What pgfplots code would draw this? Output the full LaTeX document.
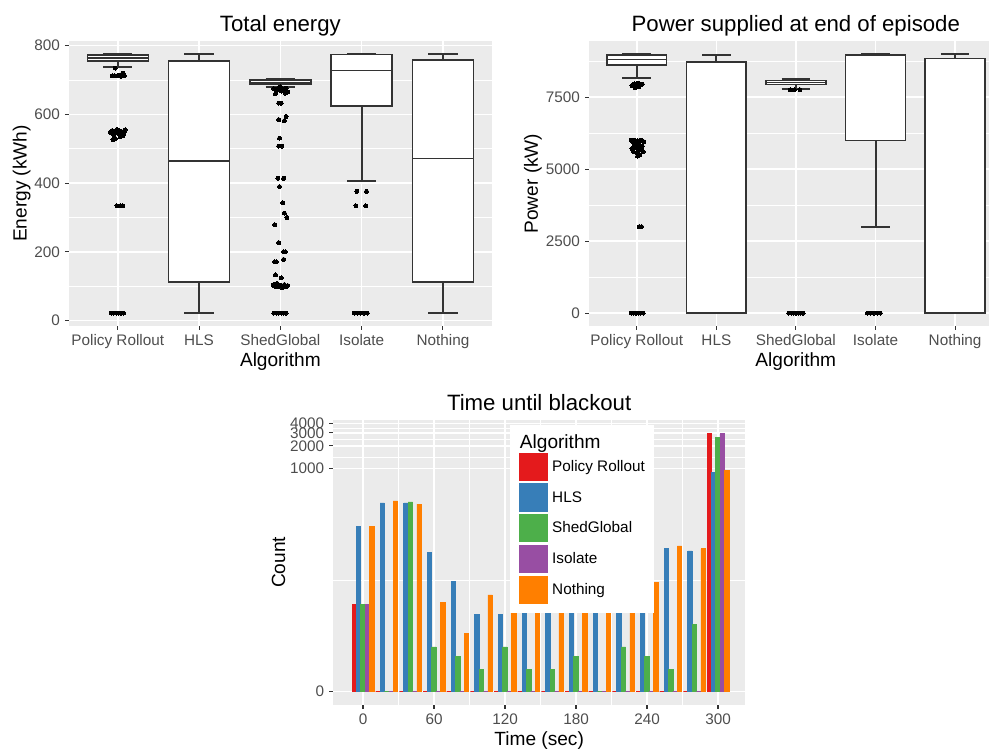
\documentclass[border=0pt]{standalone}
\usepackage{pgfplots}
\usepackage{pgfplotstable}
\pgfplotsset{compat=1.18}
\usepgfplotslibrary{statistics}
\usepackage{fontspec}
\setmainfont{Liberation Sans}

\definecolor{gray92}{HTML}{EBEBEB}
\definecolor{gray20}{HTML}{333333}
\definecolor{gray30}{HTML}{4D4D4D}
\definecolor{cR}{HTML}{E41A1C}
\definecolor{cB}{HTML}{377EB8}
\definecolor{cG}{HTML}{4DAF4A}
\definecolor{cP}{HTML}{984EA3}
\definecolor{cO}{HTML}{FF7F00}

\pgfplotstableread{
t red blue green purple orange
0 14 163 14 14 163
20 0 342 0 0 364
40 0 342 353 0 331
60 0 74 3 0 15
80 0 29 2 0 5
100 0 10 1 0 19
120 0 10 3 0 160
140 0 163 1 0 160
160 0 163 1 0 160
180 0 163 2 0 160
200 0 163 0 0 160
220 0 163 3 0 155
240 0 163 2 0 28
260 0 82 1 0 90
280 0 77 7 0 82
300 2986 893 2600 2986 950
}\timedata

\pgfplotsset{
  gg/.style={
    scale only axis, height=285pt,
    axis background/.style={fill=gray92},
    axis lines*=left, axis line style={draw=none},
    tick align=outside, major tick length=4pt, minor tick length=0pt,
    tick style={draw=gray20, line width=1.07pt},
    minor tick style={draw=none},
    major grid style={white, line width=1.5pt},
    minor grid style={white, line width=0.75pt},
    tick label style={font=\fontsize{15.3}{16}\selectfont, text=gray30},
    xticklabel style={anchor=base, inner sep=0pt, yshift=-15.5pt},
    yticklabel style={anchor=east, inner sep=0pt, xshift=-5pt},
    label style={font=\fontsize{19.1}{21}\selectfont},
    title style={font=\fontsize{22.2}{24}\selectfont, at={(0.5,1)}, anchor=base, yshift=3pt},
    xlabel style={at={(axis description cs:0.5,0)}, anchor=base, yshift=-41pt},
    ylabel style={anchor=base},
    boxplot/draw direction=y, boxplot/box extend=0.75, boxplot/whisker extend=0.36,
    boxplot/draw/median/.code={%
      \draw[line width=1.6pt, draw=gray20]
        (boxplot box cs:\pgfplotsboxplotvalue{median},0) --
        (boxplot box cs:\pgfplotsboxplotvalue{median},1);},
    boxplot/draw/lower whisker/.code={%
      \draw[line width=2pt, draw=gray20]
        (boxplot whisker cs:\pgfplotsboxplotvalue{lower quartile},0.5) --
        (boxplot whisker cs:\pgfplotsboxplotvalue{lower whisker},0.5);
      \draw[line width=2pt, draw=gray20]
        (boxplot whisker cs:\pgfplotsboxplotvalue{lower whisker},0) --
        (boxplot whisker cs:\pgfplotsboxplotvalue{lower whisker},1);},
    boxplot/draw/upper whisker/.code={%
      \draw[line width=2pt, draw=gray20]
        (boxplot whisker cs:\pgfplotsboxplotvalue{upper quartile},0.5) --
        (boxplot whisker cs:\pgfplotsboxplotvalue{upper whisker},0.5);
      \draw[line width=2pt, draw=gray20]
        (boxplot whisker cs:\pgfplotsboxplotvalue{upper whisker},0) --
        (boxplot whisker cs:\pgfplotsboxplotvalue{upper whisker},1);},
  },
  bx/.style={draw=gray20, fill=white, line width=1.5pt, solid},
  outl/.style={only marks, mark=*, mark size=2pt, black, mark options={fill=black, draw=black, line width=0pt}},
  bb/.style={ybar, bar width=3.7, bar shift=0pt, fill=#1, draw=#1, line width=0.7pt,
    legend image code/.code={\fill[#1] (0pt,-13.65pt) rectangle (27.3pt,13.65pt);}},
}

\begin{document}
\begin{tikzpicture}[x=1pt,y=1pt]
\useasboundingbox (0,0) rectangle (990,749);

% ---------------- Total energy ----------------
\begin{axis}[gg, at={(69pt,423pt)}, anchor=south west, width=422.7pt,
  xmin=0.4, xmax=5.6, ymin=-15.7, ymax=813.7,
  xtick={1,2,3,4,5}, xticklabels={Policy Rollout,HLS,ShedGlobal,Isolate,Nothing},
  ytick={0,200,400,600,800}, yticklabels={0,200,400,600,800},
  minor ytick={100,300,500,700},
  xmajorgrids, ymajorgrids, yminorgrids,
  title={Total energy}, xlabel={Algorithm}, ylabel={Energy (kWh)},
  ylabel style={at={(axis description cs:-0.1005,0.5)}}]
\addplot[bx, boxplot prepared={draw position=1, lower whisker=738, lower quartile=756, median=765, upper quartile=773, upper whisker=776}] coordinates {};
\addplot[bx, boxplot prepared={draw position=2, lower whisker=23, lower quartile=113, median=465, upper quartile=756, upper whisker=776}] coordinates {};
\addplot[bx, boxplot prepared={draw position=3, lower whisker=680, lower quartile=689, median=691, upper quartile=700, upper whisker=702}] coordinates {};
\addplot[bx, boxplot prepared={draw position=4, lower whisker=405, lower quartile=625, median=728, upper quartile=774, upper whisker=776}] coordinates {};
\addplot[bx, boxplot prepared={draw position=5, lower whisker=23, lower quartile=113, median=472, upper quartile=759, upper whisker=776}] coordinates {};
% outliers
\addplot[outl] coordinates {
(0.97,735)(0.93,712)(0.96,713)(1.02,714)(1.05,716)(1.07,718)(1.08,713)(1.04,711)(1.06,720)(1.00,712)
(0.91,548)(0.93,553)(0.95,540)(0.97,530)(0.99,556)(1.01,545)(1.03,535)(1.05,550)(1.07,542)(1.09,555)(0.94,527)(1.02,552)(1.06,538)(0.98,547)(1.08,549)
(0.99,334)(1.03,334)(1.06,334)
(0.92,22)(0.95,22)(0.98,22)(1.01,22)(1.04,22)(1.07,22)
(2.92,675)(2.95,670)(2.98,677)(3.01,668)(3.04,672)(3.07,676)(3.09,665)(2.94,660)(3.00,680)(3.06,662)
(2.98,633)(3.01,633)(3.07,594)(2.98,585)(3.05,582)(2.99,531)(2.98,508)(3.02,508)
(2.97,414)(3.04,414)(2.99,390)(3.03,343)(3.05,313)(3.08,300)(2.93,279)(2.98,227)
(3.04,200)(3.06,200)(3.04,178)(2.93,171)(2.95,171)(2.94,133)(3.01,124)
(2.91,104)(2.93,100)(2.95,106)(2.97,98)(2.99,103)(3.01,101)(3.03,97)(3.05,105)(3.07,99)(3.09,102)(2.96,108)(3.02,95)
(2.92,22)(2.95,22)(2.98,22)(3.01,22)(3.04,22)(3.07,22)
(3.94,376)(4.06,376)(3.93,334)(4.05,334)
(3.91,22)(3.95,22)(3.99,22)(4.03,22)(4.07,22)
};
\end{axis}

% ---------------- Power supplied ----------------
\begin{axis}[gg, at={(589pt,423pt)}, anchor=south west, width=400.3pt,
  xmin=0.4, xmax=5.43, ymin=-450, ymax=9450,
  xtick={1,2,3,4,5}, xticklabels={Policy Rollout,HLS,ShedGlobal,Isolate,Nothing},
  ytick={0,2500,5000,7500}, yticklabels={0,2500,5000,7500},
  minor ytick={1250,3750,6250,8750},
  xmajorgrids, ymajorgrids, yminorgrids,
  title={Power supplied at end of episode}, xlabel={Algorithm}, ylabel={Power (kW)},
  title style={at={(0.5166,1)}},
  xlabel style={at={(axis description cs:0.5166,0)}},
  ylabel style={at={(axis description cs:-0.128,0.5)}}]
\addplot[bx, boxplot prepared={draw position=1, lower whisker=8151, lower quartile=8616, median=8814, upper quartile=8960, upper whisker=9000}] coordinates {};
\addplot[bx, boxplot prepared={draw position=2, lower whisker=0, lower quartile=0, median=0, upper quartile=8720, upper whisker=8960}] coordinates {};
\addplot[bx, boxplot prepared={draw position=3, lower whisker=7791, lower quartile=7942, median=8012, upper quartile=8082, upper whisker=8117}] coordinates {};
\addplot[bx, boxplot prepared={draw position=4, lower whisker=3000, lower quartile=6000, median=8960, upper quartile=8965, upper whisker=9000}] coordinates {};
\addplot[bx, boxplot prepared={draw position=5, lower whisker=0, lower quartile=0, median=0, upper quartile=8837, upper whisker=8988}] coordinates {};
\addplot[outl] coordinates {
(0.94,7900)(0.97,7960)(1.00,7880)(1.02,7990)(1.05,7930)(1.07,7950)(0.98,7820)(1.03,7870)
(0.93,6000)(0.95,5950)(0.97,6010)(0.99,5900)(1.01,5990)(1.03,5850)(1.05,6000)(1.07,5800)(1.09,5950)
(0.94,5700)(0.96,5600)(0.98,5750)(1.00,5550)(1.02,5650)(1.04,5500)(1.06,5700)(1.08,5600)(0.97,5850)(1.01,5450)(1.05,5750)
(1.03,3000)(1.06,3000)
(0.93,0)(0.96,0)(0.99,0)(1.02,0)(1.05,0)(1.08,0)
(2.93,7760)(2.98,7750)(3.05,7760)
(2.91,0)(2.94,0)(2.97,0)(3.00,0)(3.03,0)(3.06,0)(3.09,0)
(3.90,0)(3.94,0)(3.98,0)(4.02,0)(4.06,0)
};
\end{axis}

% ---------------- Time until blackout ----------------
\begin{axis}[gg, at={(333.3pt,44pt)}, anchor=south west, width=411.7pt,
  xmin=-25.1, xmax=322.8, ymin=-0.337, ymax=4466,
  y coord trafo/.code={\pgfmathparse{log10(#1+1)}},
  y coord inv trafo/.code={\pgfmathparse{10^(#1)-1}},
  xtick={0,60,120,180,240,300}, xticklabels={0,60,120,180,240,300},
  minor xtick={30,90,150,210,270},
  ytick={0,1000,2000,3000,4000}, yticklabels={0,1000,2000,3000,4000},
  minor ytick={30.6,1414.6,2449.5,3463.8},
  grid=both,
  title={Time until blackout}, xlabel={Time (sec)}, ylabel={Count},
  ylabel style={at={(axis description cs:-0.1173,0.5)}},
  legend cell align=left,
  legend style={at={(0.4292,0.9825)}, anchor=north west, draw=none, fill=white,
    font=\fontsize{15.3}{16}\selectfont, text=black,
    inner xsep=9pt, inner ysep=9.5pt, row sep=2.7pt, column sep=5pt,
    nodes={inner sep=0pt}},
]
\addlegendimage{empty legend}
\addlegendentry{\hspace*{-32.3pt}\fontsize{19.1}{21}\selectfont Algorithm}
\addplot[bb=cR] table[x expr=\thisrow{t}-7.4, y=red] {\timedata};
\addlegendentry{Policy Rollout}
\addplot[bb=cB] table[x expr=\thisrow{t}-3.7, y=blue] {\timedata};
\addlegendentry{HLS}
\addplot[bb=cG] table[x=t, y=green] {\timedata};
\addlegendentry{ShedGlobal}
\addplot[bb=cP] table[x expr=\thisrow{t}+3.7, y=purple] {\timedata};
\addlegendentry{Isolate}
\addplot[bb=cO] table[x expr=\thisrow{t}+7.4, y=orange] {\timedata};
\addlegendentry{Nothing}
\end{axis}
\end{tikzpicture}
\end{document}
